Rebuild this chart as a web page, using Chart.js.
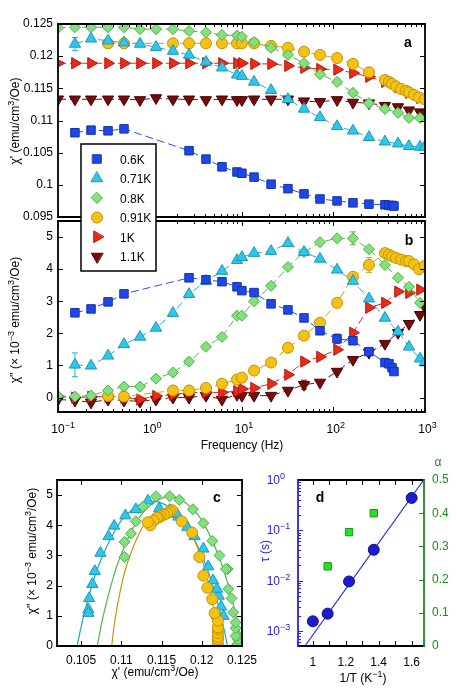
<!DOCTYPE html>
<html>
<head>
<meta charset="utf-8">
<script src="https://cdn.jsdelivr.net/npm/chart.js@4.4.1/dist/chart.umd.min.js"></script>
<style>
  html, body { margin: 0; padding: 0; background: #fff; }
  #wrap { position: relative; width: 457px; height: 692px; }
  #wrap canvas { position: absolute; left: 0; top: 0; }
</style>
</head>
<body>
<div id="wrap">
  <canvas id="chartA" width="457" height="692"></canvas>
  <canvas id="chartB" width="457" height="692"></canvas>
  <canvas id="chartC" width="457" height="692"></canvas>
  <canvas id="chartD" width="457" height="692"></canvas>
</div>
<script>
/* ---------- data (panels a,b: frequency in Hz, chi' in emu/cm3/Oe, chi'' in 1e-3 emu/cm3/Oe) ---------- */
const temps = ['0.6K', '0.71K', '0.8K', '0.91K', '1K', '1.1K'];

const freq06  = [0.153, 0.229, 0.351, 0.524, 2.68, 4.10, 6.13, 8.93, 10.1, 13.7, 21.0, 32.1, 48.0, 71.7, 110, 164, 245, 366, 405, 437, 459];
const chi1_06 = [0.1081, 0.1085, 0.1084, 0.1087, 0.1053, 0.1040, 0.1028, 0.1020, 0.1018, 0.1012, 0.1001, 0.0994, 0.0986, 0.0978, 0.0975, 0.0972, 0.0970, 0.0969, 0.0968, 0.0968, 0.0967];
const chi2_06 = [2.64, 2.76, 2.98, 3.23, 3.73, 3.67, 3.61, 3.45, 3.33, 3.27, 2.92, 2.73, 2.48, 2.08, 1.83, 1.77, 1.43, 1.09, 1.05, 0.93, 0.81];

const freq071  = [0.153, 0.229, 0.351, 0.524, 0.783, 1.17, 1.79, 2.68, 4.10, 6.13, 8.93, 10.1, 13.7, 21.0, 32.1, 48.0, 71.7, 110, 164, 245, 366, 508, 669, 882, 990];
const chi1_071 = [0.1219, 0.1227, 0.1224, 0.1221, 0.1219, 0.1214, 0.1208, 0.1202, 0.1191, 0.1182, 0.1171, 0.1169, 0.1160, 0.1147, 0.1133, 0.1118, 0.1105, 0.1091, 0.1084, 0.1074, 0.1067, 0.1064, 0.1060, 0.1059, 0.1059];
const chi2_071 = [1.02, 0.99, 1.30, 1.66, 1.89, 2.17, 2.63, 3.22, 3.63, 3.94, 4.28, 4.37, 4.50, 4.56, 4.81, 4.53, 4.32, 3.98, 3.63, 3.08, 2.48, 2.05, 1.58, 1.21, 1.09];

const freq08  = [0.1, 0.153, 0.229, 0.351, 0.524, 0.783, 1.17, 1.79, 2.68, 4.10, 6.13, 8.93, 10.1, 13.7, 21.0, 32.1, 48.0, 71.7, 110, 164, 245, 366, 508, 669, 882];
const chi1_08 = [0.1244, 0.1245, 0.1245, 0.1245, 0.1245, 0.1242, 0.1242, 0.1242, 0.1239, 0.1237, 0.1233, 0.1232, 0.1230, 0.1222, 0.1213, 0.1202, 0.1189, 0.1172, 0.1160, 0.1143, 0.1127, 0.1118, 0.1112, 0.1104, 0.1104];
const chi2_08 = [0.05, 0.03, 0.06, 0.22, 0.34, 0.34, 0.59, 0.78, 1.12, 1.58, 1.89, 2.55, 2.55, 3.00, 3.48, 4.07, 4.53, 4.84, 4.96, 4.96, 4.62, 4.13, 3.73, 3.45, 2.95];

const freq091  = [0.351, 0.524, 1.79, 2.68, 4.10, 6.13, 8.93, 10.1, 13.7, 21.0, 32.1, 48.0, 71.7, 110, 164, 245, 366, 405, 437, 483, 548, 621, 669, 759, 861, 990];
const chi1_091 = [0.1220, 0.1220, 0.1220, 0.1220, 0.1220, 0.1220, 0.1220, 0.1220, 0.1220, 0.1216, 0.1213, 0.1207, 0.1202, 0.1197, 0.1188, 0.1175, 0.1163, 0.1160, 0.1157, 0.1153, 0.1149, 0.1146, 0.1144, 0.1140, 0.1136, 0.1133];
const chi2_091 = [0.05, 0.03, 0.22, 0.22, 0.30, 0.43, 0.56, 0.62, 0.84, 1.09, 1.55, 1.93, 2.33, 2.95, 3.76, 4.13, 4.50, 4.45, 4.40, 4.35, 4.30, 4.25, 4.25, 4.15, 4.00, 4.10];

const freq1  = [0.1, 0.153, 0.229, 0.351, 0.524, 0.783, 1.17, 1.79, 2.68, 4.10, 6.13, 8.93, 10.1, 13.7, 21.0, 32.1, 48.0, 71.7, 110, 164, 245, 366, 508, 669, 882];
const chi1_1 = [0.1189, 0.1189, 0.1189, 0.1189, 0.1189, 0.1189, 0.1189, 0.1189, 0.1189, 0.1189, 0.1189, 0.1189, 0.1189, 0.1188, 0.1188, 0.1185, 0.1182, 0.1180, 0.1179, 0.1174, 0.1168, 0.1160, 0.1152, 0.1143, 0.1135];
const chi2_1 = [0.03, 0.00, 0.02, 0.03, 0.00, -0.06, 0.05, 0.09, 0.16, 0.16, 0.16, 0.20, 0.27, 0.30, 0.43, 0.71, 1.12, 1.27, 1.49, 2.02, 2.80, 2.95, 3.30, 3.26, 3.36];

const freq11  = [0.1, 0.153, 0.229, 0.351, 0.524, 0.783, 1.17, 1.79, 2.68, 4.10, 6.13, 8.93, 10.1, 13.7, 21.0, 32.1, 48.0, 71.7, 110, 164, 245, 366, 508, 669, 882, 990];
const chi1_11 = [0.1133, 0.1133, 0.1133, 0.1133, 0.1133, 0.1132, 0.1135, 0.1133, 0.1133, 0.1132, 0.1133, 0.1132, 0.1132, 0.1133, 0.1133, 0.1133, 0.1130, 0.1129, 0.1132, 0.1128, 0.1127, 0.1123, 0.1121, 0.1116, 0.1113, 0.1112];
const chi2_11 = [-0.06, -0.09, -0.15, -0.06, -0.09, -0.12, -0.06, 0.00, 0.00, 0.06, -0.06, 0.09, 0.06, 0.06, 0.06, 0.22, 0.40, 0.47, 0.81, 1.18, 1.40, 1.68, 2.02, 2.30, 2.58, 2.83];

/* error bars: [point index, half-height] */
const err1_071 = [[0, 0.0010]];
const err2_071 = [[0, 0.37]];
const err2_06  = [[14, 0.15], [21 - 3, 0.08]];
const err2_08  = [[19, 0.20]];
const err2_091 = [[15, 0.23]];
const err2_11  = [[16, 0.14]];

/* panel c: Cole-Cole fit curves */
const fitX071 = [0.1045, 0.10497, 0.10544, 0.10637, 0.10731, 0.10918, 0.11105, 0.11385, 0.11666, 0.11853, 0.12040, 0.12133, 0.12227, 0.12273, 0.1232];
const fitY071 = [0, 0.60, 1.13, 2.03, 2.75, 3.81, 4.45, 4.80, 4.45, 3.81, 2.75, 2.03, 1.13, 0.60, 0];
const fitX08  = [0.1070, 0.10745, 0.1079, 0.1088, 0.1097, 0.1115, 0.1133, 0.1160, 0.1187, 0.1205, 0.1223, 0.1232, 0.1241, 0.12455, 0.1250];
const fitY08  = [0, 0.62, 1.17, 2.09, 2.84, 3.93, 4.59, 4.95, 4.59, 3.93, 2.84, 2.09, 1.17, 0.62, 0];
const fitX091 = [0.1088, 0.10913, 0.10947, 0.11013, 0.11080, 0.11213, 0.11346, 0.11545, 0.11745, 0.11878, 0.12011, 0.12077, 0.12144, 0.12177, 0.1221];
const fitY091 = [0, 0.72, 1.28, 2.14, 2.79, 3.68, 4.22, 4.50, 4.22, 3.68, 2.79, 2.14, 1.28, 0.72, 0];

/* panel d: relaxation time and alpha vs 1/T */
const invT    = [1.0, 1.09, 1.22, 1.37, 1.60];
const tau     = [1.55e-3, 2.2e-3, 9.6e-3, 0.041, 0.44];
const invTa   = [1.09, 1.22, 1.37];
const alpha   = [0.24, 0.343, 0.40];
const fitInvT = [0.952, 1.673];
const fitTau  = [5.0e-4, 1.0];

/* tick labels */
const ticksA  = [0.095, 0.1, 0.105, 0.11, 0.115, 0.12, 0.125];
const ticksB  = [0, 1, 2, 3, 4, 5];
const decadesF = [0.1, 1, 10, 100, 1000];
const expF     = ['\u22121', '0', '1', '2', '3'];
const ticksCx = [0.105, 0.11, 0.115, 0.12, 0.125];
const ticksDx = [1, 1.2, 1.4, 1.6];
const decadesTau = [1e-3, 1e-2, 1e-1, 1];
const expTau     = ['\u22123', '\u22122', '\u22121', '0'];
const ticksAlpha = [0, 0.1, 0.2, 0.3, 0.4, 0.5];

/* ---------- styles ---------- */
const FONT = "'Liberation Sans', Arial, Helvetica, sans-serif";
Chart.defaults.font.family = FONT;
Chart.defaults.font.size = 12;
Chart.defaults.color = '#000';

const STY = {
  '0.6K':  { shape: 'rect',     r: 6,   rot: 0,   fill: '#1f47e8', edge: '#1232b0', line: '#2a50e6' },
  '0.71K': { shape: 'triangle', r: 6.5, rot: 0,   fill: '#30c6e8', edge: '#1898bd', line: '#22aedb' },
  '0.8K':  { shape: 'rectRot',  r: 5.5, rot: 0,   fill: '#84e07e', edge: '#4faf4a', line: '#52b84c' },
  '0.91K': { shape: 'circle',   r: 5.5, rot: 0,   fill: '#f5c214', edge: '#c49200', line: '#d4a008' },
  '1K':    { shape: 'triangle', r: 6.5, rot: 90,  fill: '#ee2a16', edge: '#b0180c', line: '#dd2a18' },
  '1.1K':  { shape: 'triangle', r: 6.5, rot: 180, fill: '#7a0a0a', edge: '#480404', line: '#7a1010' }
};

const zip = (xs, ys) => xs.map((x, i) => ({ x, y: ys[i] }));

function series(label, xs, ys, errs) {
  const s = STY[label];
  return {
    label,
    data: zip(xs, ys),
    errs: errs || [],
    showLine: true,
    borderColor: s.line,
    borderWidth: 1,
    borderDash: [8, 4],
    pointStyle: s.shape,
    pointRadius: s.r,
    pointRotation: s.rot,
    pointBackgroundColor: s.fill,
    pointBorderColor: s.edge,
    pointBorderWidth: 1
  };
}

function fitLine(xs, ys, color) {
  return {
    data: zip(xs, ys),
    showLine: true,
    tension: 0.4,
    borderColor: color,
    borderWidth: 1.2,
    pointRadius: 0
  };
}

/* ---------- drawing helpers ---------- */
function rich(ctx, parts, x, y, size, align, color, bold) {
  const ss = Math.round(size * 0.72);
  const f = (sup) => (bold ? 'bold ' : '') + (sup ? ss : size) + 'px ' + FONT;
  let w = 0;
  parts.forEach(p => { ctx.font = f(p[1]); w += ctx.measureText(p[0]).width; });
  let cx = align === 'center' ? x - w / 2 : align === 'right' ? x - w : x;
  ctx.fillStyle = color;
  ctx.textAlign = 'left';
  ctx.textBaseline = 'alphabetic';
  parts.forEach(p => {
    ctx.font = f(p[1]);
    ctx.fillText(p[0], cx, p[1] ? y - size * 0.42 : y);
    cx += ctx.measureText(p[0]).width;
  });
}

function drawText(ctx, t) {
  ctx.save();
  ctx.translate(t.x, t.y);
  if (t.rotate) ctx.rotate(-Math.PI / 2);
  rich(ctx, t.parts, 0, 0, t.size || 12, t.align || 'center', t.color || '#000', t.bold);
  ctx.restore();
}

function drawMarker(ctx, s, x, y) {
  ctx.fillStyle = s.fill;
  ctx.strokeStyle = s.edge;
  ctx.lineWidth = 1;
  ctx.beginPath();
  if (s.shape === 'circle') {
    ctx.arc(x, y, s.r, 0, Math.PI * 2);
  } else if (s.shape === 'rect') {
    const h = s.r * Math.SQRT1_2;
    ctx.rect(x - h, y - h, 2 * h, 2 * h);
  } else if (s.shape === 'rectRot') {
    ctx.moveTo(x, y - s.r); ctx.lineTo(x + s.r, y); ctx.lineTo(x, y + s.r); ctx.lineTo(x - s.r, y); ctx.closePath();
  } else {
    const a0 = s.rot * Math.PI / 180;
    for (let k = 0; k < 3; k++) {
      const a = a0 + k * 2 * Math.PI / 3;
      const px = x + Math.sin(a) * s.r, py = y - Math.cos(a) * s.r;
      if (k) ctx.lineTo(px, py); else ctx.moveTo(px, py);
    }
    ctx.closePath();
  }
  ctx.fill();
  ctx.stroke();
}

function minorLog(decs) {
  const out = [];
  decs.forEach(d => { for (let k = 2; k <= 9; k++) out.push(d * k); });
  return out;
}

// error bars drawn under the markers
const errorBars = {
  id: 'errorBars',
  beforeDatasetsDraw(chart) {
    const ctx = chart.ctx;
    ctx.save();
    chart.data.datasets.forEach((ds, i) => {
      if (!ds.errs || !ds.errs.length) return;
      const meta = chart.getDatasetMeta(i);
      const ys = chart.scales[meta.yAxisID];
      ctx.strokeStyle = ds.borderColor;
      ctx.lineWidth = 1;
      ds.errs.forEach(([j, e]) => {
        const d = ds.data[j];
        const px = meta.data[j].x;
        const y1 = ys.getPixelForValue(d.y + e), y2 = ys.getPixelForValue(d.y - e);
        ctx.beginPath();
        ctx.moveTo(px, y1); ctx.lineTo(px, y2);
        ctx.moveTo(px - 3, y1); ctx.lineTo(px + 3, y1);
        ctx.moveTo(px - 3, y2); ctx.lineTo(px + 3, y2);
        ctx.stroke();
      });
    });
    ctx.restore();
  }
};

// frame, inward ticks, log labels, titles and legend
const frame = {
  id: 'frame',
  afterDraw(chart, args, o) {
    const ctx = chart.ctx, a = chart.chartArea;
    ctx.save();
    ctx.lineWidth = 1;
    (o.ticks || []).forEach(t => {
      const sc = chart.scales[t.scale];
      ctx.strokeStyle = t.color || '#000';
      t.values.forEach(v => {
        if (v < sc.min - 1e-12 || v > sc.max + 1e-12) return;
        const p = Math.round(sc.getPixelForValue(v)) + 0.5;
        ctx.beginPath();
        t.sides.forEach(side => {
          if (side === 'bottom') { ctx.moveTo(p, a.bottom); ctx.lineTo(p, a.bottom - t.len); }
          if (side === 'top')    { ctx.moveTo(p, a.top);    ctx.lineTo(p, a.top + t.len); }
          if (side === 'left')   { ctx.moveTo(a.left, p);   ctx.lineTo(a.left + t.len, p); }
          if (side === 'right')  { ctx.moveTo(a.right, p);  ctx.lineTo(a.right - t.len, p); }
        });
        ctx.stroke();
      });
    });

    const bc = Object.assign({ top: '#000', bottom: '#000', left: '#000', right: '#000' }, o.border || {});
    ctx.lineWidth = 1.8;
    ctx.lineCap = 'square';
    [['top', a.left, a.top, a.right, a.top], ['bottom', a.left, a.bottom, a.right, a.bottom],
     ['left', a.left, a.top, a.left, a.bottom], ['right', a.right, a.top, a.right, a.bottom]].forEach(e => {
      ctx.strokeStyle = bc[e[0]];
      ctx.beginPath(); ctx.moveTo(e[1], e[2]); ctx.lineTo(e[3], e[4]); ctx.stroke();
    });

    // log tick labels: "10" with superscript exponent
    (o.logLabels || []).forEach(L => {
      const sc = chart.scales[L.scale];
      ctx.font = '12px ' + FONT;
      const w10 = ctx.measureText('10').width;
      L.values.forEach((v, i) => {
        const p = sc.getPixelForValue(v);
        if (sc.isHorizontal()) {
          rich(ctx, [['10'], [L.exps[i], true]], p - w10 / 2, L.base, 12, 'left', L.color || '#000');
        } else {
          rich(ctx, [['10'], [L.exps[i], true]], L.base - w10, p + 4, 12, 'left', L.color || '#000');
        }
      });
    });

    (o.texts || []).forEach(t => drawText(ctx, t));

    if (o.legend) {
      const g = o.legend;
      ctx.fillStyle = '#fff';
      ctx.strokeStyle = '#000';
      ctx.lineWidth = 1.5;
      ctx.fillRect(g.x, g.y, g.w, g.h);
      ctx.strokeRect(g.x, g.y, g.w, g.h);
      temps.forEach((lab, i) => {
        const yy = g.y + 15 + i * g.step;
        drawMarker(ctx, STY[lab], g.x + 16, yy);
        rich(ctx, [[lab]], g.x + 39, yy + 4.5, 12, 'left', '#000');
      });
    }
    ctx.restore();
  }
};

const baseOpts = {
  responsive: false,
  animation: false,
  events: [],
  plugins: { legend: { display: false }, tooltip: { enabled: false } }
};

const setTicks = vals => scale => { scale.ticks = vals.map(v => ({ value: v })); };
const fmt = v => String(+v.toFixed(3));
const noGrid = { display: false, drawTicks: false };

const freqScale = {
  type: 'logarithmic', min: 0.1, max: 1000, display: false
};
const freqTicks = [
  { scale: 'x', values: decadesF, len: 5, sides: ['top', 'bottom'] },
  { scale: 'x', values: minorLog([0.1, 1, 10, 100]), len: 3, sides: ['top', 'bottom'] }
];

/* ---------- panel a ---------- */
new Chart(document.getElementById('chartA'), {
  type: 'scatter',
  data: {
    datasets: [
      series('0.6K', freq06, chi1_06), series('0.71K', freq071, chi1_071, err1_071), series('0.8K', freq08, chi1_08),
      series('0.91K', freq091, chi1_091), series('1K', freq1, chi1_1), series('1.1K', freq11, chi1_11)
    ]
  },
  options: Object.assign({}, baseOpts, {
    layout: { padding: { left: 0, top: 24, right: 32, bottom: 475 } },
    scales: {
      x: freqScale,
      y: {
        min: 0.095, max: 0.125,
        afterBuildTicks: setTicks(ticksA),
        afterFit: s => { s.width = 58; },
        grid: noGrid, border: { display: false },
        ticks: { padding: 5, callback: fmt }
      }
    },
    plugins: Object.assign({}, baseOpts.plugins, {
      frame: {
        ticks: freqTicks.concat([{ scale: 'y', values: ticksA, len: 5, sides: ['left', 'right'] }]),
        texts: [
          { parts: [["\u03c7' (emu/cm"], ['3', true], ['/Oe)']], x: 19, y: 121, rotate: true },
          { parts: [['a']], x: 408, y: 47, size: 14, bold: true }
        ]
      }
    })
  }),
  plugins: [errorBars, frame]
});

/* ---------- panel b ---------- */
new Chart(document.getElementById('chartB'), {
  type: 'scatter',
  data: {
    datasets: [
      series('0.6K', freq06, chi2_06, err2_06), series('0.71K', freq071, chi2_071, err2_071), series('0.8K', freq08, chi2_08, err2_08),
      series('0.91K', freq091, chi2_091, err2_091), series('1K', freq1, chi2_1), series('1.1K', freq11, chi2_11, err2_11)
    ]
  },
  options: Object.assign({}, baseOpts, {
    layout: { padding: { left: 0, top: 221, right: 32, bottom: 280 } },
    scales: {
      x: freqScale,
      y: {
        min: -0.45, max: 5.5,
        afterBuildTicks: setTicks(ticksB),
        afterFit: s => { s.width = 58; },
        grid: noGrid, border: { display: false },
        ticks: { padding: 5 }
      }
    },
    plugins: Object.assign({}, baseOpts.plugins, {
      frame: {
        ticks: freqTicks.concat([{ scale: 'y', values: ticksB, len: 5, sides: ['left', 'right'] }]),
        logLabels: [{ scale: 'x', values: decadesF, exps: expF, base: 433 }],
        texts: [
          { parts: [["\u03c7'' (\u00d7 10"], ['\u22123', true], [' emu/cm'], ['3', true], ['/Oe)']], x: 19, y: 320, rotate: true },
          { parts: [['Frequency (Hz)']], x: 242, y: 449 },
          { parts: [['b']], x: 409, y: 245, size: 14, bold: true }
        ],
        legend: { x: 81, y: 144, w: 75, h: 127, step: 19.5 }
      }
    })
  }),
  plugins: [errorBars, frame]
});

/* ---------- panel c ---------- */
new Chart(document.getElementById('chartC'), {
  type: 'scatter',
  data: {
    datasets: [
      series('0.91K', chi1_091, chi2_091), series('0.8K', chi1_08, chi2_08), series('0.71K', chi1_071, chi2_071),
      fitLine(fitX091, fitY091, '#c99408'), fitLine(fitX08, fitY08, '#4cb846'), fitLine(fitX071, fitY071, '#1aa6cf')
    ].map((d, i) => (i < 3 ? Object.assign(d, { showLine: false }) : d))
  },
  options: Object.assign({}, baseOpts, {
    layout: { padding: { left: 0, top: 480, right: 215, bottom: 26 } },
    scales: {
      x: {
        type: 'linear', min: 0.102, max: 0.125,
        afterBuildTicks: setTicks(ticksCx),
        afterFit: s => { s.height = 20; },
        grid: noGrid, border: { display: false },
        ticks: { padding: 7, callback: fmt, maxRotation: 0 }
      },
      y: {
        min: 0, max: 5.5,
        afterBuildTicks: setTicks(ticksB),
        afterFit: s => { s.width = 57; },
        grid: noGrid, border: { display: false },
        ticks: { padding: 4 }
      }
    },
    plugins: Object.assign({}, baseOpts.plugins, {
      frame: {
        ticks: [
          { scale: 'x', values: ticksCx, len: 5, sides: ['top', 'bottom'] },
          { scale: 'y', values: ticksB, len: 5, sides: ['left', 'right'] }
        ],
        texts: [
          { parts: [["\u03c7'' (\u00d7 10"], ['\u22123', true], [' emu/cm'], ['3', true], ['/Oe)']], x: 36, y: 551, rotate: true },
          { parts: [["\u03c7' (emu/cm"], ['3', true], ['/Oe)']], x: 155, y: 676 },
          { parts: [['c']], x: 217, y: 502, size: 14, bold: true }
        ]
      }
    })
  }),
  plugins: [frame]
});

/* ---------- panel d ---------- */
new Chart(document.getElementById('chartD'), {
  type: 'scatter',
  data: {
    datasets: [
      {
        data: zip(invT, tau), yAxisID: 'y',
        pointStyle: 'circle', pointRadius: 5.5,
        pointBackgroundColor: '#1c1ccc', pointBorderColor: '#0e0e86', pointBorderWidth: 1
      },
      {
        data: zip(invTa, alpha), yAxisID: 'y2',
        pointStyle: 'rect', pointRadius: 5.2,
        pointBackgroundColor: '#26e026', pointBorderColor: '#13961a', pointBorderWidth: 1
      },
      {
        data: zip(fitInvT, fitTau), yAxisID: 'y', showLine: true,
        borderColor: '#2233ee', borderWidth: 1.2, pointRadius: 0
      }
    ]
  },
  options: Object.assign({}, baseOpts, {
    layout: { padding: { left: 0, top: 480, right: 0, bottom: 26 } },
    scales: {
      x: {
        type: 'linear', min: 0.91, max: 1.675,
        afterBuildTicks: setTicks(ticksDx),
        afterFit: s => { s.height = 20; },
        grid: noGrid, border: { display: false },
        ticks: { padding: 9, callback: fmt, maxRotation: 0 }
      },
      y: {
        type: 'logarithmic', position: 'left', min: 5.0e-4, max: 1,
        afterFit: s => { s.width = 298; },
        grid: noGrid, border: { display: false },
        ticks: { display: false }
      },
      y2: {
        type: 'linear', position: 'right', min: 0, max: 0.5,
        afterBuildTicks: setTicks(ticksAlpha),
        afterFit: s => { s.width = 33; },
        grid: noGrid, border: { display: false },
        ticks: { padding: 8, color: '#1a8a1a', callback: v => (v === 0 ? '0' : v.toFixed(1)) }
      }
    },
    plugins: Object.assign({}, baseOpts.plugins, {
      frame: {
        border: { left: '#2222ee', right: '#1a8a1a' },
        ticks: [
          { scale: 'x', values: [1, 1.1, 1.2, 1.3, 1.4, 1.5, 1.6], len: 5, sides: ['top', 'bottom'] },
          { scale: 'y', values: decadesTau, len: 5, sides: ['left'], color: '#2222ee' },
          { scale: 'y', values: minorLog([1e-4, 1e-3, 1e-2, 1e-1]), len: 3, sides: ['left'], color: '#2222ee' },
          { scale: 'y2', values: ticksAlpha, len: 5, sides: ['right'], color: '#1a8a1a' }
        ],
        logLabels: [{ scale: 'y', values: decadesTau, exps: expTau, base: 280, color: '#2222ee' }],
        texts: [
          { parts: [['\u03c4 (s)']], x: 269, y: 551, rotate: true, color: '#2222ee' },
          { parts: [['\u03b1']], x: 438, y: 466, color: '#1a8a1a' },
          { parts: [['1/T (K'], ['\u22121', true], [')']], x: 363, y: 682 },
          { parts: [['d']], x: 320, y: 502, size: 14, bold: true }
        ]
      }
    })
  }),
  plugins: [frame]
});
</script>
</body>
</html>
